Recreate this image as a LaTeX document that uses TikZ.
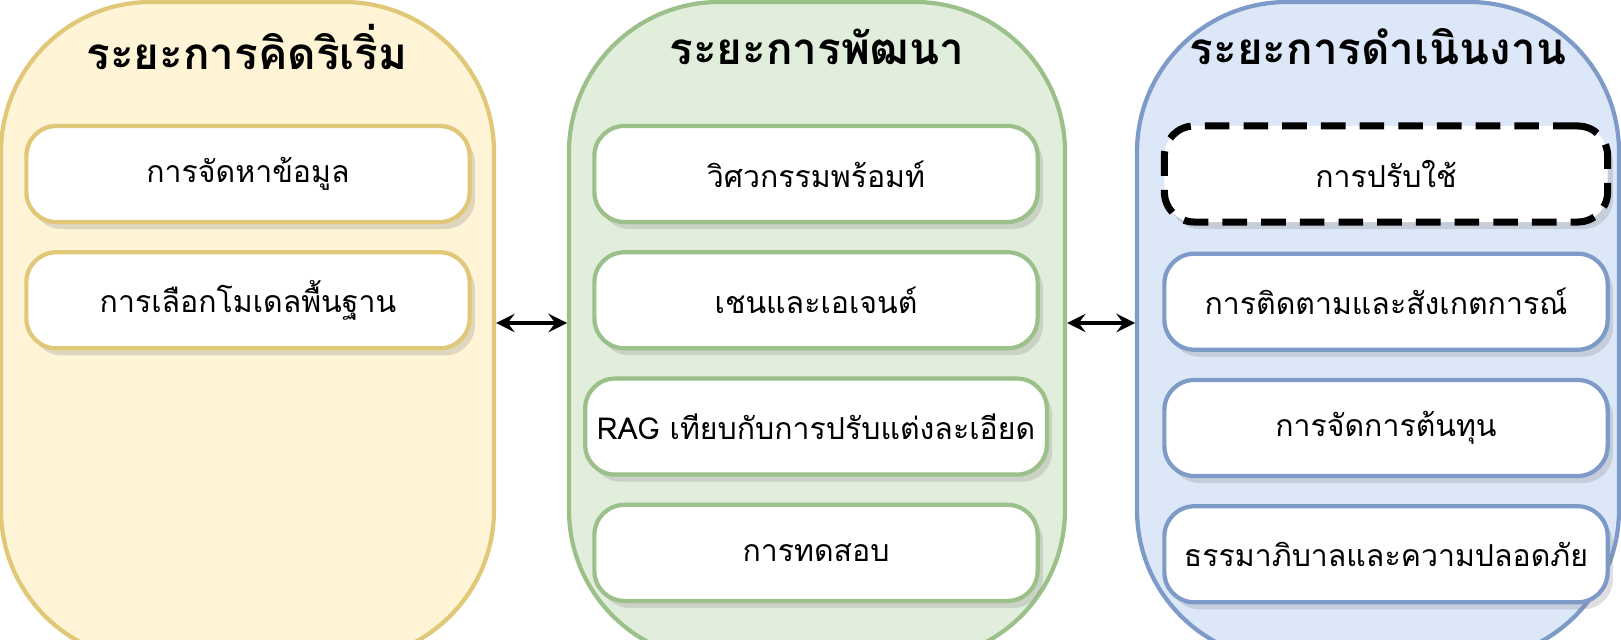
\documentclass[tikz,border=0pt]{standalone}
\usepackage{fontspec}
\setmainfont[Script=Thai]{Loma}
\usetikzlibrary{positioning,shadows}
\definecolor{ideafill}{HTML}{FFF4D6}
\definecolor{ideadraw}{HTML}{E0C878}
\definecolor{devfill}{HTML}{E2EEDC}
\definecolor{devdraw}{HTML}{9CC08A}
\definecolor{opsfill}{HTML}{DCE8F8}
\definecolor{opsdraw}{HTML}{7D9AC8}

\begin{document}
\begin{tikzpicture}[x=0.01cm,y=-0.01cm]

\tikzset{phase/.style={draw=#1draw,fill=#1fill,line width=1.2pt,rounded corners=1.5cm},
title/.style={font=\fontsize{12.5}{15}\selectfont\bfseries},
step/.style={draw=#1draw,fill=white,line width=1.2pt,rounded corners=0.3cm,minimum width=4.43cm,minimum height=0.96cm,font=\fontsize{8.6}{10}\selectfont,drop shadow={opacity=0.25,shadow xshift=1.5pt,shadow yshift=-2pt}},
dashstep/.style={draw=black,dashed,dash pattern=on 7pt off 4pt,fill=white,line width=2pt,rounded corners=0.3cm,minimum width=4.43cm,minimum height=0.96cm,font=\fontsize{8.6}{10}\selectfont,drop shadow={opacity=0.25,shadow xshift=1.5pt,shadow yshift=-2pt}},
link/.style={<->,>=stealth,line width=1.3pt}}

\useasboundingbox (0,0) rectangle (1621,640);

% Phases
\draw[phase=idea] (1,2) rectangle (494,660);
\draw[phase=dev] (569,2) rectangle (1065,660);
\draw[phase=ops] (1137,2) rectangle (1619,660);
\node[title] (ideaT) at (247,47) {ระยะการคิดริเริ่ม};
\node[title] (devT) at (817,47) {ระยะการพัฒนา};
\node[title] (opsT) at (1378,47) {ระยะการดำเนินงาน};

% Steps
\node[step=idea] (i1) at (248,174) {การจัดหาข้อมูล};
\node[step=idea,below=0.26cm of i1] (i2) {การเลือกโมเดลพื้นฐาน};

\node[step=dev] (d1) at (816,174) {วิศวกรรมพร้อมท์};
\node[step=dev,below=0.26cm of d1] (d2) {เชนและเอเจนต์};
\node[step=dev,below=0.26cm of d2] (d3) {RAG เทียบกับการปรับแต่งละเอียด};
\node[step=dev,below=0.26cm of d3] (d4) {การทดสอบ};

\node[dashstep] (o1) at (1386,174) {การปรับใช้};
\node[step=ops,below=0.26cm of o1] (o2) {การติดตามและสังเกตการณ์};
\node[step=ops,below=0.26cm of o2] (o3) {การจัดการต้นทุน};
\node[step=ops,below=0.26cm of o3] (o4) {ธรรมาภิบาลและความปลอดภัย};

% Links
\coordinate (a1) at (496,323); \coordinate (a2) at (567,323);
\coordinate (b1) at (1067,323); \coordinate (b2) at (1135,323);
\draw[link] (a1) -- (a2);
\draw[link] (b1) -- (b2);

\end{tikzpicture}
\end{document}
